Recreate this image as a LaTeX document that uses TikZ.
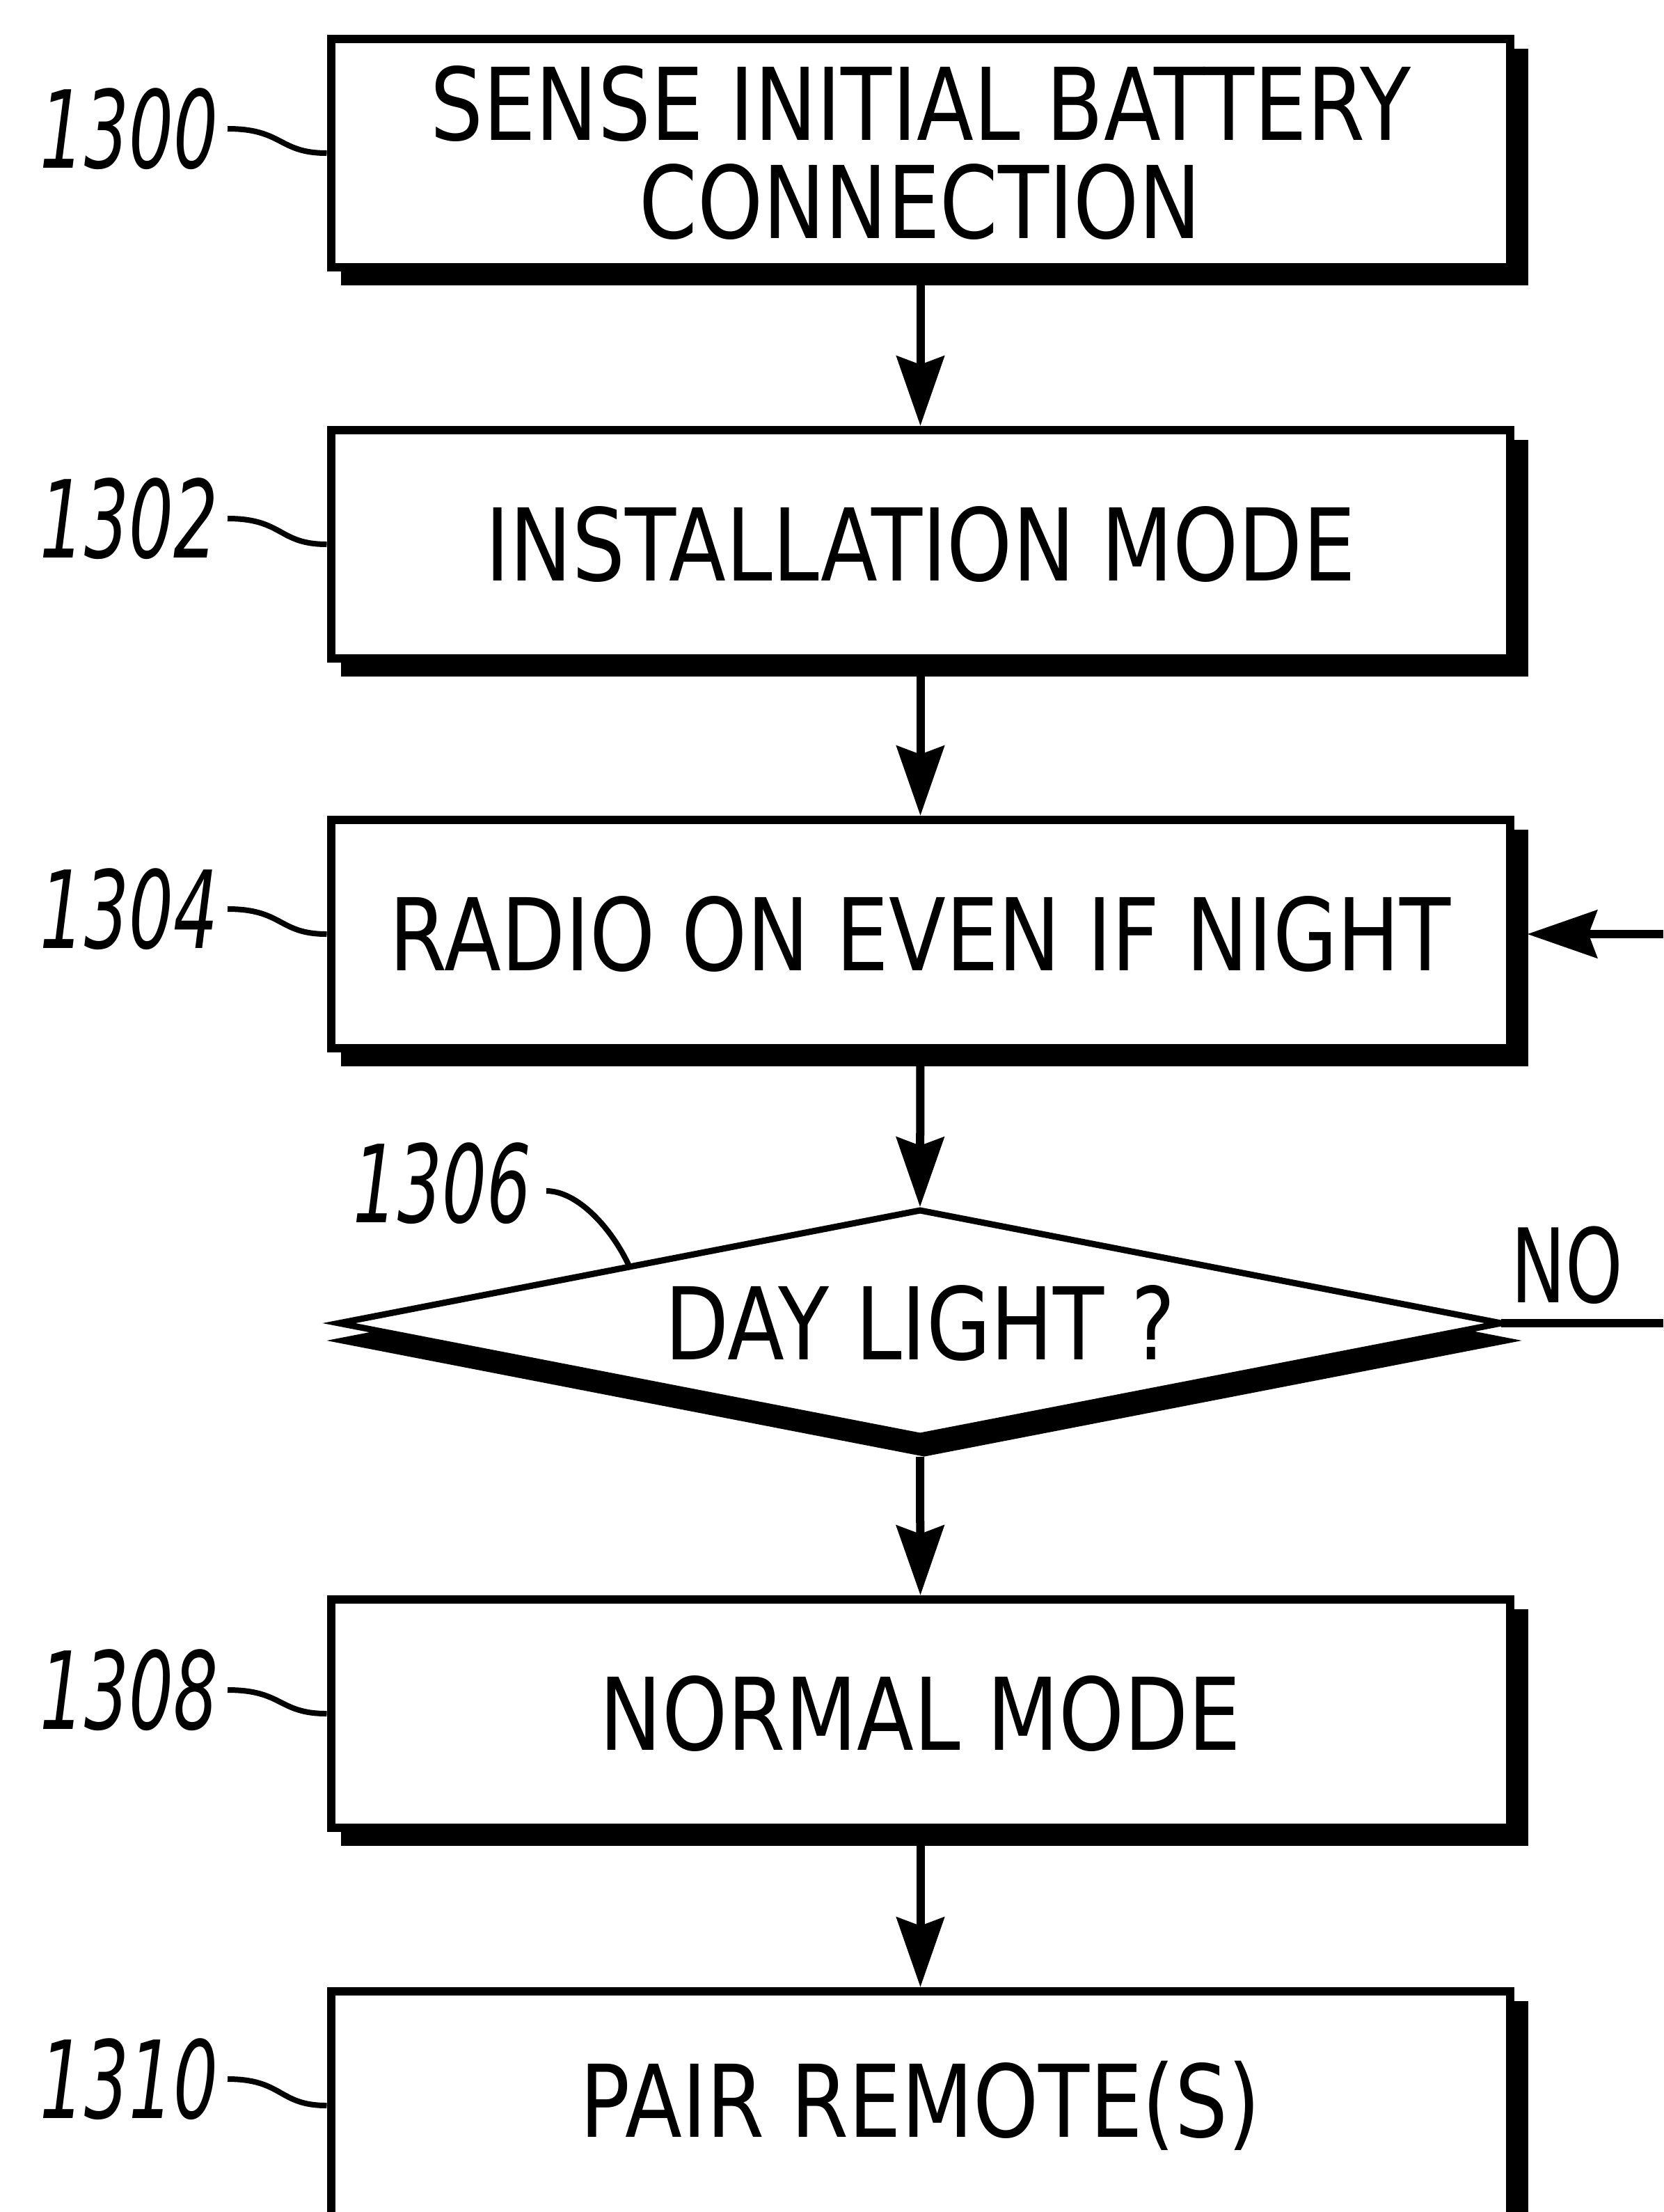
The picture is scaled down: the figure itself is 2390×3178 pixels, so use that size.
\documentclass[tikz,border=0pt]{standalone}
\usepackage{fontspec}
\setmainfont{DejaVu Sans}[FakeStretch=0.83]
\newfontfamily\lblfont{DejaVu Sans}[FakeStretch=0.65]
\newfontfamily\nofont{DejaVu Sans}[FakeStretch=0.71]
\usetikzlibrary{arrows.meta,shadows}
\begin{document}
\begin{tikzpicture}[x=0.01cm,y=-0.01cm,
  stepbox/.style={draw, line width=0.12cm, fill=white, minimum width=16.93cm, minimum height=3.28cm, inner sep=0pt, align=center,
    font=\fontsize{41}{40.1}\selectfont,
    drop shadow={shadow xshift=0.2cm, shadow yshift=-0.2cm, draw=black, fill=black, opacity=1, line width=0.12cm}},
  diamondedge/.style={draw=black, line width=0.09cm, fill=white},
  diamondshadow/.style={draw=black, line width=0.09cm, fill=black},
  dtext/.style={inner sep=0pt, font=\fontsize{41}{40.1}\selectfont},
  flow/.style={line width=0.12cm, -{Stealth[length=1cm,width=0.68cm,inset=0.12cm]}},
  plainline/.style={line width=0.12cm},
  refnum/.style={font=\lblfont\itshape\fontsize{44}{44}\selectfont, inner sep=0pt, anchor=east},
  nolabel/.style={font=\nofont\fontsize{42}{42}\selectfont, inner sep=0pt},
  leader/.style={line width=0.08cm},
]
\fill[white] (0,0) rectangle (2390,3178);
\useasboundingbox (0,0) rectangle (2390,3178);

% boxes
\node[stepbox] (b1) at (1322.5,220) {SENSE INITIAL BATTERY\\CONNECTION};
\node[stepbox] (b2) at (1322.5,782) {INSTALLATION MODE};
\node[stepbox] (b3) at (1322.5,1342) {RADIO ON EVEN IF NIGHT};
\node[stepbox] (b4) at (1322.5,2462) {NORMAL MODE};
\node[stepbox] (b5) at (1322.5,3025) {PAIR REMOTE(S)};

% decision diamond
\coordinate (dN) at (1322,1739);
\coordinate (dE) at (2157,1901);
\coordinate (dS) at (1322,2063);
\coordinate (dW) at (487,1901);
\coordinate (dNW) at (904.5,1820);
\path[diamondshadow] ([shift={(6,25)}]dN) -- ([shift={(6,25)}]dE) -- ([shift={(6,25)}]dS) -- ([shift={(6,25)}]dW) -- cycle;
\path[diamondedge] (dN) -- (dE) -- (dS) -- (dW) -- cycle;
\node[dtext] (d) at (1322,1901) {DAY LIGHT ?};

% reference numerals
\node[refnum] (l1) at (314,185) {1300};
\node[refnum] (l2) at (314,745) {1302};
\node[refnum] (l3) at (314,1306) {1304};
\node[refnum] (l4) at (764,1700) {1306};
\node[refnum] (l5) at (314,2428) {1308};
\node[refnum] (l6) at (314,2987) {1310};

% leaders
\draw[leader] ([xshift=0.13cm]l1.east) .. controls +(80,0) and +(-70,0) .. (b1.west);
\draw[leader] ([xshift=0.13cm]l2.east) .. controls +(80,0) and +(-70,0) .. (b2.west);
\draw[leader] ([xshift=0.13cm]l3.east) .. controls +(80,0) and +(-70,0) .. (b3.west);
\draw[leader] ([xshift=0.21cm,yshift=-0.11cm]l4.east) .. controls +(45,0) and +(-25,-55) .. (dNW);
\draw[leader] ([xshift=0.13cm]l5.east) .. controls +(80,0) and +(-70,0) .. (b4.west);
\draw[leader] ([xshift=0.13cm]l6.east) .. controls +(80,0) and +(-70,0) .. (b5.west);

% flow arrows
\draw[flow] (b1.south) -- (b2.north);
\draw[flow] (b2.south) -- (b3.north);
\draw[flow] (b3.south) -- ([yshift=0.05cm]dN);
\draw[flow] ([yshift=-0.3cm]dS) -- (b4.north);
\draw[flow] (b4.south) -- (b5.north);

% NO branch
\node[nolabel] (no) at (2252,1818) {NO};
\coordinate (noend) at (2390,1901);
\draw[plainline] (dE) -- (noend);
\coordinate (backin) at (2390,1342);
\draw[flow] (backin) -- ([xshift=0.19cm]b3.east);
\end{tikzpicture}
\end{document}
